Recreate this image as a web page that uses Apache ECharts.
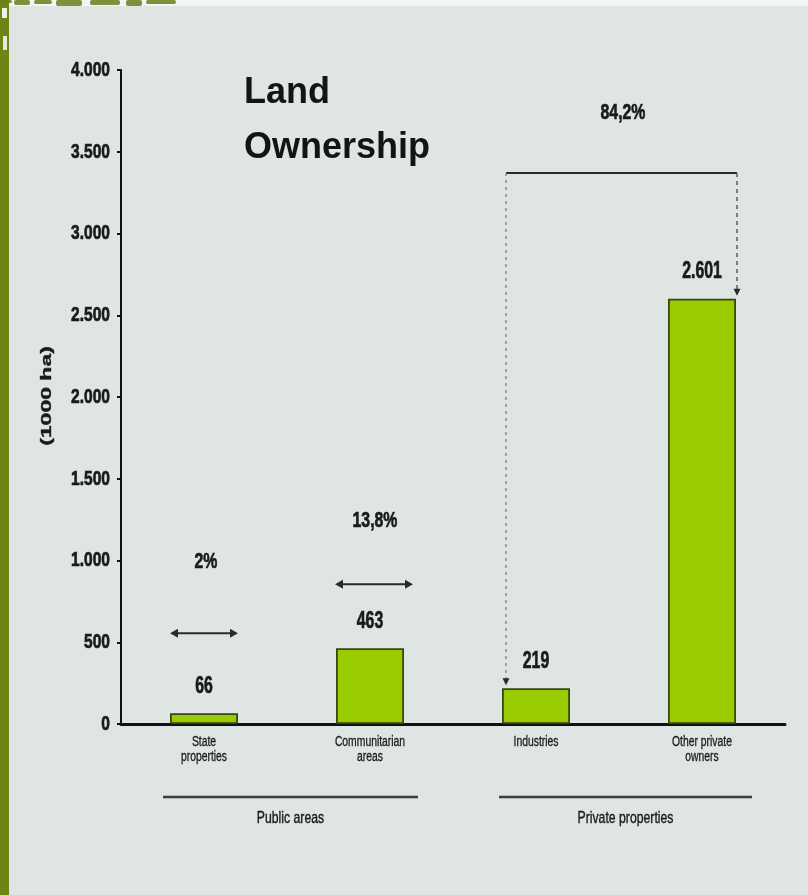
<!DOCTYPE html>
<html>
<head>
<meta charset="utf-8">
<script src="https://cdn.jsdelivr.net/npm/echarts@6/dist/echarts.min.js"></script>
<style>
  html, body { margin: 0; padding: 0; background: #dfe5e2; }
  #chart { width: 808px; height: 895px; }
</style>
</head>
<body>
<div id="chart"></div>
<script>
// Land area by ownership type, in thousands of hectares
const categories = ['State\nproperties', 'Communitarian\nareas', 'Industries', 'Other private\nowners'];
const areaValues = [66, 463, 219, 2601];
const yMin = 0;
const yMax = 4000;
const yStep = 500;
const groupNames = ['Public areas', 'Private properties'];
const shareLabels = ['2%', '13,8%', '84,2%'];
const unitLabel = '(1000 ha)';
const titleText = 'Land\nOwnership';

const SANS = "'Liberation Sans', Arial, sans-serif";
const INK = '#1a1a1a';

// thousands separator as a dot: 2601 -> 2.601
const fmt = v => String(v).replace(/\B(?=(\d{3})+(?!\d))/g, '.');

// condensed bold text style shared by numbers and percentages
const boldStyle = (text, size, align) => ({
  text: text, fill: INK, stroke: INK, lineWidth: 0.7,
  fontFamily: SANS, fontSize: size, fontWeight: 'bold',
  align: align || 'center', verticalAlign: 'middle'
});

const chart = echarts.init(document.getElementById('chart'), null, { renderer: 'canvas' });

const option = {
  backgroundColor: '#dfe5e2',
  animation: false,
  title: {
    text: titleText,
    left: 239,
    top: 61,
    textStyle: { fontFamily: SANS, fontSize: 36, fontWeight: 'bold', color: '#141414', lineHeight: 55 }
  },
  grid: { left: 121, right: 23, top: 70, bottom: 171 },
  xAxis: {
    type: 'category',
    data: categories,
    axisLine: { lineStyle: { color: '#111', width: 3 } },
    axisTick: { show: false },
    axisLabel: { show: false }
  },
  yAxis: {
    type: 'value',
    min: yMin,
    max: yMax,
    interval: yStep,
    splitLine: { show: false },
    axisLine: { show: true, lineStyle: { color: '#111', width: 2 } },
    axisTick: { show: true, length: 4, lineStyle: { color: '#111', width: 2 } },
    axisLabel: { show: false }
  },
  series: [{
    type: 'bar',
    data: areaValues,
    barWidth: 68,
    itemStyle: { color: '#99cc00', borderColor: '#3a4510', borderWidth: 1.8 }
  }, {
    // value labels above the bars, drawn condensed
    type: 'custom',
    data: areaValues.map((v, i) => [i, v]),
    silent: true,
    z: 5,
    renderItem: (params, api) => {
      const p = api.coord([api.value(0), api.value(1)]);
      return {
        type: 'text', x: p[0], y: p[1] - 27, scaleX: 0.66,
        style: boldStyle(fmt(api.value(1)), 24)
      };
    }
  }]
};

chart.setOption(option);

// pixel position of a point given in data space
const px = (cat, v) => chart.convertToPixel({ xAxisIndex: 0, yAxisIndex: 0 }, [cat, v]);

function arrowHead(x, y, dir, len, half) {
  let pts;
  if (dir === 'left') pts = [[x, y], [x + len, y - half], [x + len, y + half]];
  else if (dir === 'right') pts = [[x, y], [x - len, y - half], [x - len, y + half]];
  else pts = [[x, y], [x - half, y - len], [x + half, y - len]];
  return { type: 'polygon', shape: { points: pts }, style: { fill: '#2a2a2a' }, silent: true };
}

function doubleArrow(cx, y, halfWidth) {
  return [
    { type: 'line', shape: { x1: cx - halfWidth + 4, y1: y, x2: cx + halfWidth - 4, y2: y },
      style: { stroke: '#2a2a2a', lineWidth: 2 }, silent: true },
    arrowHead(cx - halfWidth, y, 'left', 8, 4.5),
    arrowHead(cx + halfWidth, y, 'right', 8, 4.5)
  ];
}

const g = [];

// frame decoration: olive strip on the left, light band with foliage along the top
g.push({ type: 'rect', shape: { x: 0, y: 0, width: 808, height: 6 }, style: { fill: '#f4f6f3' }, silent: true });
g.push({ type: 'rect', shape: { x: 0, y: 0, width: 9, height: 895 }, style: { fill: '#6e8414' }, silent: true });
[[0, 0, 12, 3], [14, 0, 16, 5], [34, 0, 18, 4], [56, 0, 26, 6], [90, 0, 30, 5], [126, 0, 16, 6], [146, 0, 30, 4]]
  .forEach(r => g.push({ type: 'rect', shape: { x: r[0], y: r[1], width: r[2], height: r[3], r: 2 }, style: { fill: '#6b7d1a', opacity: 0.85 }, silent: true }));
g.push({ type: 'rect', shape: { x: 2, y: 8, width: 5, height: 10 }, style: { fill: '#eef0ea' }, silent: true });
g.push({ type: 'rect', shape: { x: 3, y: 36, width: 4, height: 14 }, style: { fill: '#e3e7dc' }, silent: true });

// value axis tick labels
for (let v = yMin; v <= yMax; v += yStep) {
  const p = px(0, v);
  g.push({ type: 'text', x: 110, y: p[1], scaleX: 0.74, silent: true, style: boldStyle(fmt(v), 21, 'right') });
}

// category labels under the axis
categories.forEach((c, i) => {
  const p = px(i, 0);
  g.push({
    type: 'text', x: p[0], y: p[1] + 11, scaleX: 0.74, silent: true,
    style: { text: c, fill: INK, stroke: INK, lineWidth: 0.3, fontFamily: SANS, fontSize: 14,
      align: 'center', verticalAlign: 'top', lineHeight: 15 }
  });
});

// unit name along the value axis
g.push({
  type: 'text', x: 47, y: 396, rotation: Math.PI / 2, scaleY: 0.62, silent: true,
  style: { text: unitLabel, fill: INK, stroke: INK, lineWidth: 0.6, fontFamily: SANS, fontSize: 23,
    fontWeight: 'bold', align: 'center', verticalAlign: 'middle' }
});

// share of public areas
const a0 = px(0, 555);
const a1 = px(1, 855);
g.push(...doubleArrow(a0[0], a0[1], 34));
g.push(...doubleArrow(a1[0] + 4, a1[1], 39));
const s0 = px(0, 990);
const s1 = px(1, 1245);
g.push({ type: 'text', x: s0[0] + 2, y: s0[1], scaleX: 0.72, silent: true, style: boldStyle(shareLabels[0], 22) });
g.push({ type: 'text', x: s1[0] + 5, y: s1[1], scaleX: 0.72, silent: true, style: boldStyle(shareLabels[1], 22) });

// bracket over the private properties
const bl = px(2, 3370);
const br = px(3, 3370);
const leftX = bl[0] - 30;
const rightX = br[0] + 35;
const leftEnd = px(2, areaValues[2])[1] - 3;
const rightEnd = px(3, areaValues[3])[1] - 3;
g.push({ type: 'line', shape: { x1: leftX, y1: bl[1], x2: rightX, y2: bl[1] },
  style: { stroke: '#2a2a2a', lineWidth: 2 }, silent: true });
g.push({ type: 'line', shape: { x1: leftX, y1: bl[1], x2: leftX, y2: leftEnd - 6 },
  style: { stroke: '#8a8f8c', lineWidth: 1.5, lineDash: [3, 4] }, silent: true });
g.push({ type: 'line', shape: { x1: rightX, y1: br[1], x2: rightX, y2: rightEnd - 6 },
  style: { stroke: '#5a5f5c', lineWidth: 1.5, lineDash: [4, 4] }, silent: true });
g.push(arrowHead(leftX, leftEnd, 'down', 7, 3.5));
g.push(arrowHead(rightX, rightEnd, 'down', 7, 3.5));
const s2 = px(2, 3735);
g.push({ type: 'text', x: (bl[0] + br[0]) / 2 + 4, y: s2[1], scaleX: 0.72, silent: true, style: boldStyle(shareLabels[2], 22) });

// grouping lines under the category labels
const base = px(0, 0)[1];
const groups = [
  { name: groupNames[0], x1: px(0, 0)[0] - 41, x2: px(1, 0)[0] + 48 },
  { name: groupNames[1], x1: px(2, 0)[0] - 37, x2: px(3, 0)[0] + 50 }
];
groups.forEach(gr => {
  g.push({ type: 'line', shape: { x1: gr.x1, y1: base + 73, x2: gr.x2, y2: base + 73 },
    style: { stroke: '#3a3f3c', lineWidth: 2.5 }, silent: true });
  g.push({
    type: 'text', x: (gr.x1 + gr.x2) / 2, y: base + 94, scaleX: 0.72, silent: true,
    style: { text: gr.name, fill: INK, stroke: INK, lineWidth: 0.4, fontFamily: SANS, fontSize: 17,
      align: 'center', verticalAlign: 'middle' }
  });
});

chart.setOption({ graphic: { elements: g } });
</script>
</body>
</html>
